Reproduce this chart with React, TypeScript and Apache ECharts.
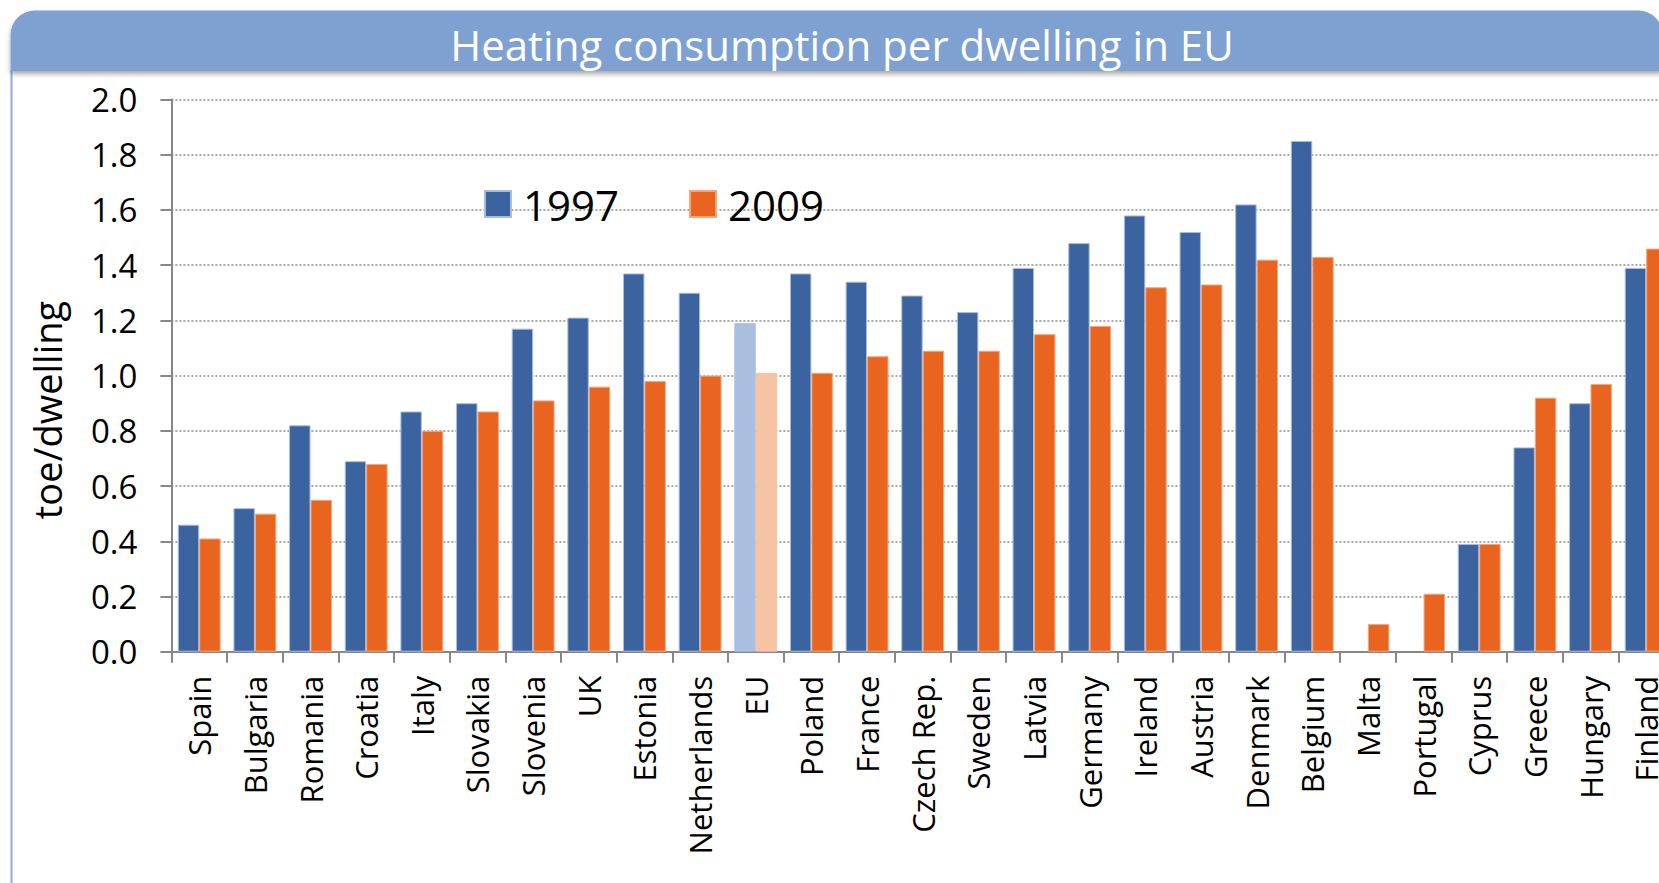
import React, { useEffect, useRef } from "react";
import * as echarts from "echarts";

const categories = [
  "Spain", "Bulgaria", "Romania", "Croatia", "Italy", "Slovakia", "Slovenia", "UK",
  "Estonia", "Netherlands", "EU", "Poland", "France", "Czech Rep.", "Sweden", "Latvia",
  "Germany", "Ireland", "Austria", "Denmark", "Belgium", "Malta", "Portugal", "Cyprus",
  "Greece", "Hungary", "Finland",
];
const values1997 = [
  0.46, 0.52, 0.82, 0.69, 0.87, 0.9, 1.17, 1.21, 1.37, 1.3, 1.19, 1.37, 1.34, 1.29, 1.23, 1.39,
  1.48, 1.58, 1.52, 1.62, 1.85, null, null, 0.39, 0.74, 0.9, 1.39,
];
const values2009 = [
  0.41, 0.5, 0.55, 0.68, 0.8, 0.87, 0.91, 0.96, 0.98, 1.0, 1.01, 1.01, 1.07, 1.09, 1.09, 1.15,
  1.18, 1.32, 1.33, 1.42, 1.43, 0.1, 0.21, 0.39, 0.92, 0.97, 1.46,
];
const seriesNames = ["1997", "2009"];
const highlightCategory = "EU";
const titleText = "Heating consumption per dwelling in EU";
const yAxisTitle = "toe/dwelling";
const yMin = 0;
const yMax = 2;
const yStep = 0.2;

export default function App() {
  const ref = useRef<HTMLDivElement>(null);

  useEffect(() => {
    const chart = echarts.init(ref.current as HTMLDivElement, null, { renderer: "svg" });
    const font = "'Open Sans', sans-serif";
    const blue = "#3A63A0";
    const orange = "#E8641F";
    const lightBlue = "#AABFE0";
    const lightOrange = "#F6C3A4";
    const axisGray = "#878787";

    const mk = (vals: (number | null)[], light: string) =>
      vals.map((v, i) =>
        categories[i] === highlightCategory
          ? { value: v, itemStyle: { color: light, borderColor: light } }
          : v === null
          ? "-"
          : v
      );

    chart.setOption({
      animation: false,
      backgroundColor: "#ffffff",
      title: {
        text: titleText,
        left: 837,
        top: 12,
        textAlign: "center",
        textStyle: {
          color: "#ffffff",
          fontFamily: font,
          fontSize: 42,
          fontWeight: "normal",
          lineHeight: 54,
        },
      },
      graphic: [
        {
          type: "rect",
          z: -10,
          shape: { x: 10.6, y: 10.6, width: 1652, height: 60.5, r: [24, 24, 0, 0] },
          style: {
            fill: "#7EA1D2",
            shadowBlur: 5,
            shadowOffsetY: 3,
            shadowColor: "rgba(0,0,0,0.35)",
          },
        },
        {
          type: "line",
          z: -11,
          shape: { x1: 11.5, y1: 70, x2: 11.5, y2: 883 },
          style: { stroke: "#8EABD9", lineWidth: 2 },
        },
        {
          type: "text",
          x: 47,
          y: 410,
          rotation: Math.PI / 2,
          style: {
            text: yAxisTitle,
            x: 0,
            y: 0,
            align: "center",
            verticalAlign: "middle",
            font: `38px ${font}`,
            fill: "#000000",
          },
        },
      ],
      legend: {
        left: 479,
        top: 175,
        icon: "rect",
        itemWidth: 26,
        itemHeight: 26,
        itemGap: 70,
        data: seriesNames,
        textStyle: {
          fontFamily: font,
          fontSize: 42,
          color: "#000000",
          lineHeight: 48,
          padding: [0, 0, 0, 7],
        },
      },
      grid: { left: 171.4, top: 99.5, width: 1502.6, height: 552.2, containLabel: false },
      xAxis: {
        type: "category",
        data: categories,
        axisLine: { show: true, lineStyle: { color: axisGray, width: 2 } },
        axisTick: { show: true, length: 11, lineStyle: { color: axisGray, width: 2 } },
        axisLabel: {
          interval: 0,
          rotate: 90,
          margin: 24,
          fontFamily: font,
          fontSize: 31,
          color: "#000000",
        },
        splitLine: { show: false },
      },
      yAxis: {
        type: "value",
        min: yMin,
        max: yMax,
        interval: yStep,
        axisLine: { show: true, lineStyle: { color: axisGray, width: 2 } },
        axisTick: { show: true, length: 11, lineStyle: { color: axisGray, width: 2 } },
        axisLabel: {
          margin: 34,
          fontFamily: font,
          fontSize: 33,
          color: "#000000",
          formatter: (v: number) => v.toFixed(1),
        },
        splitLine: { show: true, lineStyle: { color: "#8C8C8C", width: 1.5, type: [2, 2] } },
      },
      series: [
        {
          name: seriesNames[0],
          type: "bar",
          data: mk(values1997, lightBlue),
          barGap: "0%",
          barCategoryGap: "23%",
          itemStyle: { color: blue, borderColor: "#A8BCE0", borderWidth: 1 },
        },
        {
          name: seriesNames[1],
          type: "bar",
          data: mk(values2009, lightOrange),
          barGap: "0%",
          barCategoryGap: "23%",
          itemStyle: { color: orange, borderColor: "#F4A57C", borderWidth: 1 },
        },
      ],
    });

    return () => chart.dispose();
  }, []);

  return (
    <div
      style={{
        position: "fixed",
        left: 0,
        top: 0,
        width: 1659,
        height: 883,
        overflow: "hidden",
        background: "#ffffff",
      }}
    >
      <div ref={ref} style={{ width: 1720, height: 883 }} />
    </div>
  );
}
